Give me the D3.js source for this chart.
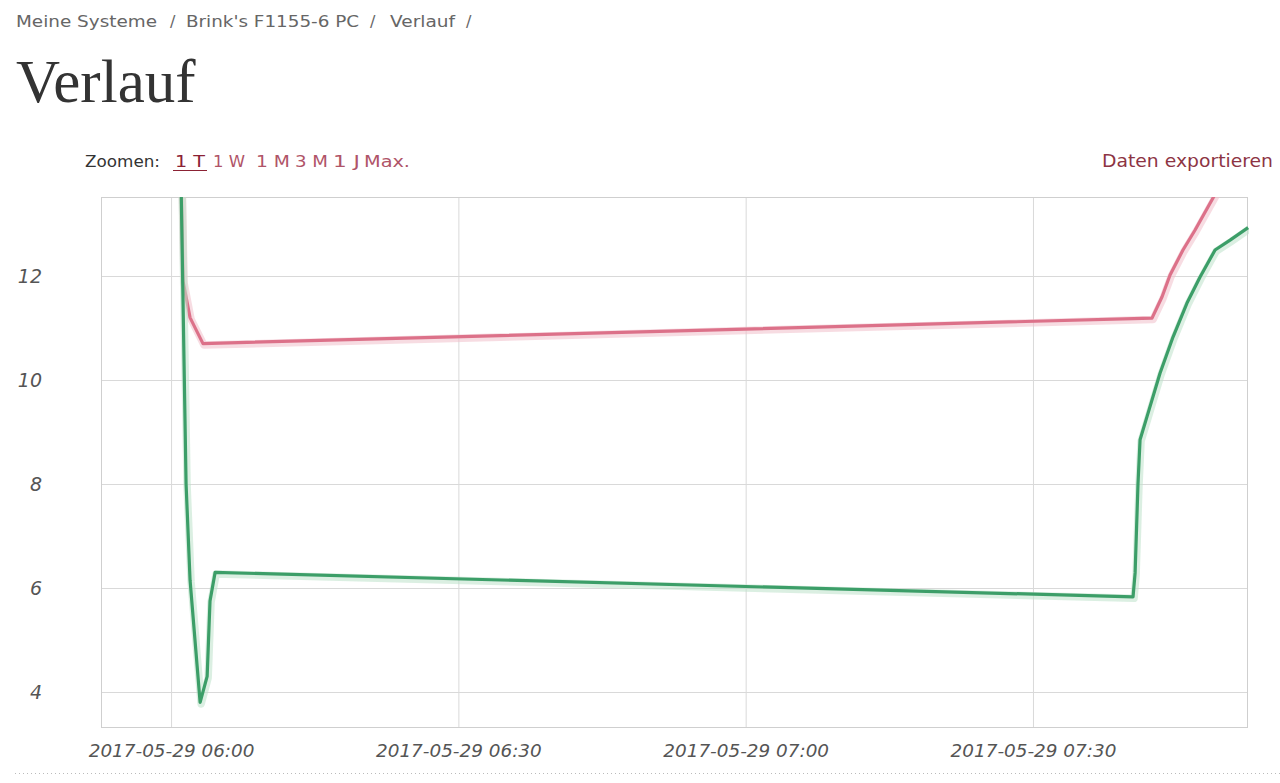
<!DOCTYPE html>
<html>
<head>
<meta charset="utf-8">
<script src="https://cdn.jsdelivr.net/npm/d3@7"></script>
<style>
  html, body { margin: 0; padding: 0; background: #fff; }
  svg { display: block; }
</style>
</head>
<body>
<svg id="chart" width="1280" height="783"></svg>
<script>
// ---- data ----
const breadcrumb = ["Meine Systeme", "Brink's F1155-6 PC", "Verlauf"];
const pageTitle = "Verlauf";
const zoomLabel = "Zoomen:";
const zoomOptions = ["1 T", "1 W", "1 M", "3 M", "1 J", "Max."];
const exportLabel = "Daten exportieren";

const xTickTimes = ["2017-05-29 06:00", "2017-05-29 06:30", "2017-05-29 07:00", "2017-05-29 07:30"];
const yTicks = [4, 6, 8, 10, 12];

const pinkTimes = ["06:00:56", "06:01:15", "06:01:59", "06:03:20", "07:42:26", "07:43:29", "07:44:19", "07:45:40", "07:46:55", "07:48:48", "07:50:35"];
const pinkValues = [15.0, 11.9, 11.2, 10.7, 11.19, 11.6, 12.02, 12.5, 12.88, 13.5, 14.1];

const greenTimes = ["06:00:56", "06:01:34", "06:01:59", "06:03:02", "06:03:46", "06:04:04", "06:04:36", "07:40:27", "07:40:40", "07:40:58", "07:41:11", "07:41:55", "07:43:16", "07:44:38", "07:46:05", "07:47:27", "07:49:01", "07:50:35", "07:52:28"];
const greenValues = [15.0, 8.0, 6.15, 3.8, 4.3, 5.75, 6.3, 5.83, 6.29, 8.0, 8.85, 9.3, 10.13, 10.83, 11.48, 11.98, 12.5, 12.69, 12.93];

const xDomain = ["2017-05-29 05:52:41", "2017-05-29 07:52:21"];
const yDomain = [3.327, 13.519];

// ---- layout (header text boxes: [x, width]) ----
const breadcrumbBoxes = [[16, 141], [186, 173], [390, 65]];
const slashBoxes = [[170, 7], [370, 7], [466, 7]];
const zoomBoxes = [[175, 30], [213, 32], [256, 34], [295, 33], [333, 27], [364, 46]];

// ---- setup ----
const parseFull = d3.timeParse("%Y-%m-%d %H:%M:%S");
const parseTick = d3.timeParse("%Y-%m-%d %H:%M");
const dayPrefix = "2017-05-29 ";

const svg = d3.select("#chart");
svg.append("rect").attr("width", 1280).attr("height", 783).attr("fill", "#fff");

const plot = { left: 101, right: 1247, top: 197, bottom: 727 };
const x = d3.scaleTime().domain(xDomain.map(parseFull)).range([plot.left, plot.right]);
const y = d3.scaleLinear().domain(yDomain).range([plot.bottom, plot.top]);

const uiFont = "'DejaVu Sans', Verdana, sans-serif";

// breadcrumb
const bcg = svg.append("g").attr("font-family", uiFont).attr("font-size", 16);
breadcrumb.forEach((b, i) => {
  bcg.append("text").attr("x", breadcrumbBoxes[i][0]).attr("y", 27)
    .attr("textLength", breadcrumbBoxes[i][1]).attr("lengthAdjust", "spacingAndGlyphs")
    .attr("fill", "#666").text(b);
  bcg.append("text").attr("x", slashBoxes[i][0]).attr("y", 27)
    .attr("fill", "#666").text("/");
});

// title
svg.append("text").attr("x", 16).attr("y", 102)
  .attr("font-family", "'Liberation Serif', 'DejaVu Serif', serif")
  .attr("font-size", 61).attr("fill", "#333").text(pageTitle);

// zoom bar
const zg = svg.append("g").attr("font-family", uiFont).attr("font-size", 16);
zg.append("text").attr("x", 85).attr("y", 167).attr("fill", "#333")
  .attr("textLength", 75).attr("lengthAdjust", "spacingAndGlyphs").text(zoomLabel);
zoomOptions.forEach((z, i) => {
  zg.append("text").attr("x", zoomBoxes[i][0]).attr("y", 167)
    .attr("textLength", zoomBoxes[i][1]).attr("lengthAdjust", "spacingAndGlyphs")
    .attr("fill", i === 0 ? "#8b2234" : "#b05468").text(z);
});
zg.append("line").attr("x1", zoomBoxes[0][0] - 2).attr("x2", zoomBoxes[0][0] + zoomBoxes[0][1] + 2)
  .attr("y1", 170.5).attr("y2", 170.5).attr("stroke", "#8b2234").attr("stroke-width", 1.2);

svg.append("text").attr("x", 1273).attr("y", 167).attr("text-anchor", "end")
  .attr("font-family", uiFont).attr("font-size", 17).attr("fill", "#8d3444")
  .attr("textLength", 171).attr("lengthAdjust", "spacingAndGlyphs")
  .text(exportLabel);

// grid
const g = svg.append("g");
g.append("g")
  .attr("transform", `translate(0,${plot.bottom})`)
  .call(d3.axisBottom(x).tickValues(xTickTimes.map(parseTick)).tickSize(-(plot.bottom - plot.top)).tickFormat(""))
  .call(s => s.select(".domain").remove())
  .call(s => s.selectAll("line").attr("stroke", "#d9d9d9"));
g.append("g")
  .attr("transform", `translate(${plot.left},0)`)
  .call(d3.axisLeft(y).tickValues(yTicks).tickSize(-(plot.right - plot.left)).tickFormat(""))
  .call(s => s.select(".domain").remove())
  .call(s => s.selectAll("line").attr("stroke", "#d9d9d9"));

g.append("rect").attr("x", plot.left + 0.5).attr("y", plot.top + 0.5)
  .attr("width", plot.right - plot.left).attr("height", plot.bottom - plot.top)
  .attr("fill", "none").attr("stroke", "#cfcfcf");

// tick labels
const xAxis = svg.append("g")
  .attr("transform", `translate(0,${plot.bottom})`)
  .call(d3.axisBottom(x).tickValues(xTickTimes.map(parseTick)).tickSize(0).tickPadding(0)
    .tickFormat(d3.timeFormat("%Y-%m-%d %H:%M")));
xAxis.select(".domain").remove();
xAxis.selectAll("text")
  .attr("dy", null).attr("y", 30)
  .attr("font-family", uiFont).attr("font-style", "italic")
  .attr("font-size", 18.4).attr("fill", "#555");

const yAxis = svg.append("g")
  .attr("transform", `translate(42,0)`)
  .call(d3.axisLeft(y).tickValues(yTicks).tickSize(0).tickPadding(0));
yAxis.select(".domain").remove();
yAxis.selectAll("text")
  .attr("dy", "0.32em").attr("x", 0)
  .attr("font-family", uiFont).attr("font-style", "italic")
  .attr("font-size", 19).attr("fill", "#555");

// clip
svg.append("clipPath").attr("id", "clip").append("rect")
  .attr("x", plot.left).attr("y", plot.top)
  .attr("width", plot.right - plot.left + 2).attr("height", plot.bottom - plot.top);

const line = d3.line().x(d => x(d[0])).y(d => y(d[1]));
const toSeries = (times, vals) => times.map((t, i) => [parseFull(dayPrefix + t), vals[i]]);

const series = [
  { data: toSeries(pinkTimes, pinkValues), color: "#dc7189", halo: "#f0bfca" },
  { data: toSeries(greenTimes, greenValues), color: "#3c9e68", halo: "#bde2cb" }
];

const lines = svg.append("g").attr("clip-path", "url(#clip)");
series.forEach(s => {
  lines.append("path").attr("d", line(s.data)).attr("fill", "none")
    .attr("stroke", s.halo).attr("stroke-width", 7.5).attr("stroke-opacity", 0.55)
    .attr("stroke-linejoin", "round").attr("transform", "translate(1,1.5)");
  lines.append("path").attr("d", line(s.data)).attr("fill", "none")
    .attr("stroke", s.color).attr("stroke-width", 3.2)
    .attr("stroke-linejoin", "round");
});

// bottom dotted separator
svg.append("line").attr("x1", 15).attr("x2", 1280).attr("y1", 773.5).attr("y2", 773.5)
  .attr("stroke", "#bbb").attr("stroke-width", 1).attr("stroke-dasharray", "1,3");
</script>
</body>
</html>
